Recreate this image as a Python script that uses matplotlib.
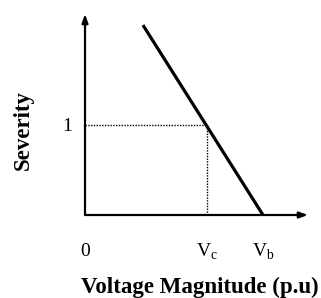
import matplotlib
matplotlib.use("Agg")
import matplotlib.pyplot as plt
import matplotlib.transforms as mtransforms

plt.rcParams['font.family'] = ['Liberation Serif', 'DejaVu Serif']
plt.rcParams['mathtext.fontset'] = 'custom'
plt.rcParams['mathtext.rm'] = 'Liberation Serif'

# severity line, voltage in units of Vc
line_x = [0.475, 1.459]
line_y = [2.11, 0.0]
v_c = 1.0
v_b = 1.459
sev_one = 1.0
tick_pos = [0, v_c, v_b]
tick_labels = ['0', r'V$_\mathrm{c}$', r'V$_\mathrm{b}$']

fig = plt.figure(figsize=(3.21, 2.98), dpi=100)
ax = fig.add_axes([85/321, 83/298, 223/321, 201/298])
xmax, ymax = 1.828, 2.233
ax.set_xlim(0, xmax)
ax.set_ylim(0, ymax)
for s in ax.spines.values():
    s.set_visible(False)

# axes with arrows
arrow = dict(arrowstyle='-|>,head_length=0.5,head_width=0.18', lw=1.6, color='black',
             shrinkA=0, shrinkB=0)
ax.annotate('', xy=(xmax, 0), xytext=(0, 0), arrowprops=arrow, annotation_clip=False)
ax.annotate('', xy=(0, ymax), xytext=(0, 0), arrowprops=arrow, annotation_clip=False)

ax.plot(line_x, line_y, color='black', lw=2.3, solid_capstyle='butt', clip_on=False)
ax.plot([0, v_c], [sev_one, sev_one], color='black', lw=1, ls=(0, (1, 1)))
ax.plot([v_c, v_c], [0, sev_one], color='black', lw=1, ls=(0, (1, 1)))

# x tick labels on a common baseline
ax.set_xticks([])
trans = mtransforms.blended_transform_factory(ax.transData, ax.transAxes)
for pos, lab in zip(tick_pos, tick_labels):
    ax.text(pos, -0.205, lab, transform=trans, fontsize=14, ha='center', va='baseline')

ax.set_yticks([sev_one])
ax.set_yticklabels(['1'], fontsize=14)
ax.tick_params(axis='y', length=0, pad=9)

ax.text(0.513, -0.39, 'Voltage Magnitude (p.u)', transform=ax.transAxes, fontsize=16.5,
        fontweight='bold', ha='center', va='baseline')
ax.text(-0.278, 0.423, 'Severity', transform=ax.transAxes, fontsize=16.5,
        fontweight='bold', ha='center', va='center', rotation=90)

fig.savefig('out.png', dpi=100)
